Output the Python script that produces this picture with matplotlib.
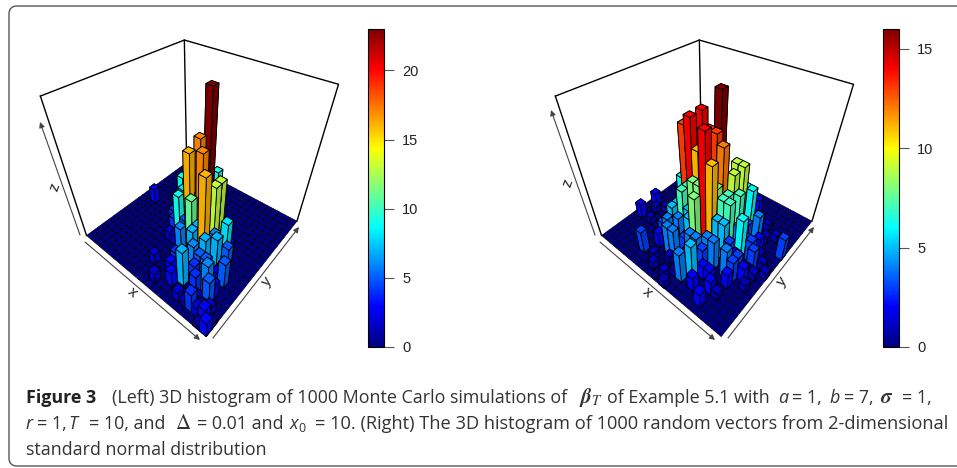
import numpy as np
import matplotlib
matplotlib.use('Agg')
import matplotlib.pyplot as plt
from matplotlib.patches import FancyBboxPatch
from matplotlib.colors import LinearSegmentedColormap, Normalize
from matplotlib.cm import ScalarMappable

W, H = 957, 468
plt.rcParams['mathtext.fontset'] = 'stix'

# histogram bins that are not empty: x bin, y bin, count
left_x = [11,14,11,11,13,15,15,15,13,8,11,10,17,14,17,14,15,18,19,19,18,17,14,20,21,10,12,2,8,11,9,13,17,18,
          16,16,16,15,14,16,17,17,19,18,19,20,20,21,19,17,16,18,18,13,12,12,12,12,13,14,13,10,9,9,10,14,16,12,11,10,9]
left_y = [13,10,11,9,9,7,9,10,7,11,15,8,9,7,7,6,3,4,6,3,1,3,2,1,0,3,1,11,9,8,7,4,10,8,
          8,6,5,5,4,4,5,8,4,2,1,0,2,1,2,1,1,6,7,3,6,8,10,11,11,11,10,9,10,9,10,10,10,12,12,7,8]
left_n = [23,19,17,16,17,16,13,13,11,9,9,9,8,7,7,7,7,6,5,5,4,4,3,3,3,2,2,3,4,5,2,4,3,5,
          6,7,5,6,4,4,5,3,3,2,2,1,2,1,1,1,2,2,2,3,6,8,9,8,7,9,7,7,8,6,8,8,4,6,5,2,4]
right_x = [11,9,9,12,8,12,11,13,10,13,14,13,14,14,6,9,9,12,14,14,15,15,15,17,8,10,9,10,11,14,13,14,15,14,15,17,18,
           17,18,19,18,17,21,6,1,1,3,7,17,15,17,18,8,9,11,12,12,10,20,19,20,21,19,14,
           10,10,11,12,12,11,10,13,13,12,13,14,8,8,9,7,8,11,12,13,14,13,16,16,16,17,18,19,20,19,18,16,15,12,7,7,5,5,4,3,2,9,10,11,12,16,17,18,14]
right_y = [12,11,9,8,9,10,10,10,9,8,13,13,11,14,10,8,7,6,9,10,9,11,14,9,6,7,4,4,6,3,2,8,8,6,6,6,6,
           13,12,9,7,8,13,2,6,9,6,4,1,2,3,3,2,1,1,2,0,3,6,8,8,9,15,18,
           10,11,11,11,9,8,8,9,11,12,12,12,8,7,6,5,5,5,5,5,5,4,10,8,12,10,10,11,10,7,5,4,4,4,7,9,7,10,9,9,8,12,13,14,14,15,16,14,16]
right_n = [16,14,14,14,13,13,13,12,11,11,9,9,9,6,6,7,7,8,7,7,7,7,6,6,5,5,4,4,5,5,4,5,5,4,4,4,3,
           4,2,3,3,2,3,3,2,2,1,2,2,2,2,1,1,1,1,1,1,1,1,1,1,1,1,2,
           9,8,9,8,9,8,8,8,8,6,7,6,6,5,4,3,4,3,4,4,3,2,4,3,3,3,3,1,1,2,2,2,2,2,2,3,1,2,1,1,1,3,3,3,2,2,1,1,1]
left_ticks = [0, 5, 10, 15, 20]
right_ticks = [0, 5, 10, 15]
n_bins = 22

jet = LinearSegmentedColormap.from_list('jetcol', ['#00007F', 'blue', '#007FFF', 'cyan', '#7FFF7F', 'yellow', '#FF7F00', 'red', '#7F0000'])

fig = plt.figure(figsize=(W/100, H/100), dpi=100)
bg = fig.add_axes([0, 0, 1, 1])
bg.set_xlim(0, W)
bg.set_ylim(H, 0)
bg.axis('off')
bg.add_patch(FancyBboxPatch((9, 6), 1100, 460, boxstyle='round,pad=0,rounding_size=8', fc='none', ec='#555555', lw=1))


def shade(c, k):
    return (c[0]*k, c[1]*k, c[2]*k, 1)


def panel(cx, cy, xs, ys, ns, hmax):
    counts = np.zeros((n_bins, n_bins))
    counts[xs, ys] = ns
    A = 480
    left = (cx-0.5135*A)/W
    bottom = (H-cy-0.5135*A)/H
    ax = fig.add_axes([left, bottom, A/W, A/H], projection='3d', proj_type='persp', focal_length=0.1258, computed_zorder=False)
    ax.patch.set_alpha(0)
    ax.view_init(40, -50)
    ax.set_box_aspect((1, 1, 1), zoom=0.613)
    ax.set_axis_off()
    gx, gy = np.meshgrid(np.arange(n_bins+1), np.arange(n_bins+1))
    ax.plot_surface(gx, gy, 0*gx, rstride=1, cstride=1, color=jet(0.0), edgecolor='black', linewidth=0.4, shade=False, zorder=1)
    for i in range(n_bins):
        for j in range(n_bins-1, -1, -1):
            h = counts[i, j]
            if h == 0:
                continue
            c = jet(h/hmax)
            # faces: bottom, top, -y, +y, -x, +x
            faces = [c, c, shade(c, 0.95), c, c, shade(c, 0.8)]
            ax.bar3d(i, j, 0, 1, 1, h, color=faces, edgecolor='black', linewidth=0.6, shade=False,
                     zorder=2+i*n_bins+(n_bins-1-j))
    ax.plot([0, 0, n_bins, n_bins], [0, n_bins, n_bins, n_bins], [hmax, hmax, hmax, 0], color='black', lw=1, zorder=0)
    ax.plot([0, 0], [0, 0], [0, hmax], color='black', lw=1, zorder=0)
    ax.plot([0, 0], [n_bins, n_bins], [0, hmax], color='black', lw=1, zorder=0)
    ax.set_xlim(0, n_bins, view_margin=0)
    ax.set_ylim(0, n_bins, view_margin=0)
    ax.set_zlim(0, hmax, view_margin=0)
    return ax


def colorbar(x0, hmax, ticks):
    cax = fig.add_axes([x0/W, (H-347)/H, 16/W, 318/H])
    cb = fig.colorbar(ScalarMappable(Normalize(0, hmax), jet), cax=cax, ticks=ticks)
    cb.outline.set_linewidth(0.8)
    cb.ax.tick_params(length=7, width=0.8, color='#555555', labelsize=10.5, pad=6, labelcolor='#222222')
    for t in cb.ax.get_yticklabels():
        t.set_fontfamily('Liberation Sans')


def arrow(p0, p1):
    bg.annotate('', xy=p1, xytext=p0, arrowprops=dict(arrowstyle='-|>', color='#444444', lw=0.8, mutation_scale=8, shrinkA=0, shrinkB=0))


def axis_text(x, y, s, rot):
    bg.text(x, y, s, rotation=rot, ha='center', va='center', fontsize=11, color='#222222', family='Liberation Sans')


panel(194, 171, left_x, left_y, left_n, 23)
panel(709, 171, right_x, right_y, right_n, 16)
colorbar(368, 23, left_ticks)
colorbar(883, 16, right_ticks)

arrow((80, 235), (40, 122))
arrow((85, 242), (200, 340))
arrow((213, 338), (299, 227))
axis_text(55, 187, 'z', 72)
axis_text(132, 292, 'x', -40)
axis_text(267, 282, 'y', 50)
arrow((595, 235), (551, 110))
arrow((600, 242), (715, 340))
arrow((728, 338), (814, 227))
axis_text(568, 183, 'z', 72)
axis_text(647, 292, 'x', -40)
axis_text(782, 282, 'y', 50)

fs = 12.9
tc = '#333333'


def cap(x, y, s, size=fs, **kw):
    bg.text(x, y, s, fontsize=size, color=tc, family='Open Sans', va='baseline', ha='left', **kw)


bg.text(26, 403, 'Figure 3', fontsize=fs, color='#222222', family='Open Sans', weight='bold', va='baseline')
cap(112, 403, '(Left) 3D histogram of 1000 Monte Carlo simulations of')
bg.text(579, 403, r'$\boldsymbol{\beta}_{T}$', fontsize=15, color=tc, va='baseline')
cap(607, 403, 'of Example 5.1 with')
cap(778, 403, 'a', style='italic')
cap(792, 403, '= 1,')
cap(830, 403, 'b', style='italic')
cap(844, 403, '= 7,')
bg.text(880, 403, r'$\boldsymbol{\sigma}$', fontsize=15, color=tc, va='baseline')
cap(902, 403, '= 1,')
cap(26, 429, 'r', style='italic')
cap(37, 429, '= 1,')
cap(68, 429, 'T', style='italic')
cap(89, 429, '= 10, and')
bg.text(175, 429, r'$\Delta$', fontsize=15, color=tc, va='baseline')
cap(197, 429, '= 0.01 and')
cap(290, 429, 'x', style='italic')
cap(298, 432, '0', size=9)
cap(315, 429, '= 10. (Right) The 3D histogram of 1000 random vectors from 2-dimensional', size=13.15)
cap(26, 455, 'standard normal distribution')

fig.savefig('out.png', dpi=100)
